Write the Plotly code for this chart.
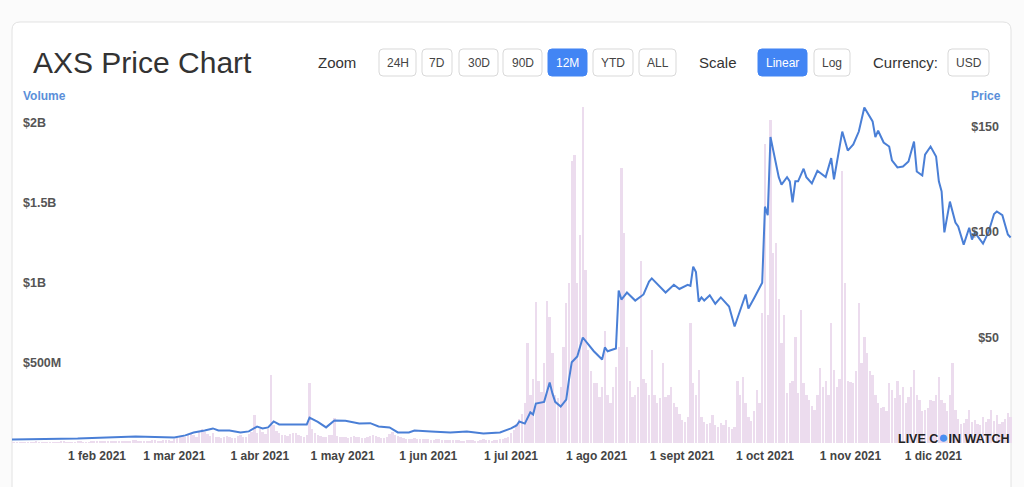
import plotly.graph_objects as go
import pandas as pd

# ---------------- data ----------------
price_dates = [
    "2021-01-01", "2021-01-25", "2021-02-15", "2021-02-24", "2021-03-01", "2021-03-05",
    "2021-03-08", "2021-03-12", "2021-03-15", "2021-03-17", "2021-03-21", "2021-03-25",
    "2021-03-28", "2021-03-31", "2021-04-02", "2021-04-04", "2021-04-06", "2021-04-08",
    "2021-04-12", "2021-04-18", "2021-04-19", "2021-04-22", "2021-04-25", "2021-04-28",
    "2021-05-02", "2021-05-07", "2021-05-11", "2021-05-14", "2021-05-18", "2021-05-21",
    "2021-05-25", "2021-05-27", "2021-06-02", "2021-06-09", "2021-06-15", "2021-06-21",
    "2021-06-27", "2021-07-01", "2021-07-03", "2021-07-04", "2021-07-06", "2021-07-08",
    "2021-07-09", "2021-07-10", "2021-07-13", "2021-07-15", "2021-07-16", "2021-07-17",
    "2021-07-19", "2021-07-21", "2021-07-22", "2021-07-23", "2021-07-25", "2021-07-27",
    "2021-07-29", "2021-07-31", "2021-08-03", "2021-08-04", "2021-08-05", "2021-08-08",
    "2021-08-09", "2021-08-10", "2021-08-12", "2021-08-15", "2021-08-18", "2021-08-20",
    "2021-08-21", "2021-08-23", "2021-08-26", "2021-08-29", "2021-08-31",
    "2021-09-03", "2021-09-04", "2021-09-05", "2021-09-06", "2021-09-07", "2021-09-08",
    "2021-09-09", "2021-09-11", "2021-09-13", "2021-09-15", "2021-09-18", "2021-09-20",
    "2021-09-24", "2021-09-25", "2021-09-27", "2021-09-29", "2021-09-30", "2021-10-01",
    "2021-10-02", "2021-10-03", "2021-10-06", "2021-10-07", "2021-10-09", "2021-10-10",
    "2021-10-11", "2021-10-12", "2021-10-13", "2021-10-15", "2021-10-16", "2021-10-18",
    "2021-10-20", "2021-10-23", "2021-10-25", "2021-10-26", "2021-10-29", "2021-10-31",
    "2021-11-02", "2021-11-04", "2021-11-06", "2021-11-09", "2021-11-10", "2021-11-11",
    "2021-11-13", "2021-11-15", "2021-11-16", "2021-11-18", "2021-11-20", "2021-11-22",
    "2021-11-24", "2021-11-25", "2021-11-27", "2021-11-28", "2021-11-30", "2021-12-02",
    "2021-12-03", "2021-12-04", "2021-12-05", "2021-12-07", "2021-12-09", "2021-12-10",
    "2021-12-12", "2021-12-14", "2021-12-15", "2021-12-16", "2021-12-19", "2021-12-21",
    "2021-12-23", "2021-12-24", "2021-12-26", "2021-12-28", "2021-12-29",
]
price_values = [
    1.7, 2.1, 3.1, 2.6, 2.6, 3.6,
    5.0, 5.9, 6.9, 5.9, 5.9, 5.0,
    5.5, 7.8, 6.9, 7.4, 10.2, 8.8,
    8.8, 8.8, 12.0, 10.0, 7.4, 10.7,
    10.5, 9.2, 9.4, 7.8, 7.4, 5.0,
    5.0, 5.9, 5.5, 5.0, 5.5, 4.5,
    5.0, 6.9, 8.3, 10.2, 9.2, 14.5,
    13.5, 18.7, 19.5, 28.7, 23.5, 19.5,
    17.3, 20.6, 30.0, 38.3, 41.0, 50.0,
    46.7, 43.5, 39.6, 45.3, 43.5, 44.8,
    72.3, 68.0, 71.3, 67.5, 70.4, 76.5,
    78.0, 75.5, 71.3, 75.0, 73.0,
    75.0, 74.5, 83.6, 81.0, 67.0, 69.0,
    67.5, 70.0, 66.0, 69.0, 64.7, 55.2,
    70.4, 63.7, 68.5, 74.0, 76.0, 112.0,
    108.0, 145.0, 126.0, 122.5, 126.0, 124.0,
    114.0, 124.0, 124.0, 130.0, 126.0, 123.0,
    129.0, 126.0, 135.0, 125.0, 147.6, 138.6,
    141.5, 147.6, 159.0, 152.4, 145.0, 148.0,
    142.4, 140.5, 134.0, 130.6, 131.0, 133.4,
    142.9, 128.7, 126.8, 136.7, 140.5, 135.8,
    124.0, 119.2, 99.8, 114.4, 104.5, 102.6,
    94.0, 102.0, 96.4, 99.8, 94.5, 100.0,
    108.5, 109.7, 108.0, 98.8, 97.4,
]

# daily volume, millions of USD, one list per month
vol_jan = [5, 4, 4, 5, 6, 5, 4, 4, 5, 7, 6, 5, 4, 5, 6, 6, 5, 5, 7, 8, 6, 5, 5, 6, 8, 7, 6, 5, 6, 8, 7]
vol_feb = [9, 10, 8, 7, 9, 12, 15, 13, 10, 9, 8, 12, 14, 18, 16, 13, 10, 9, 12, 15, 20, 18, 15, 13, 16, 19, 18, 15]
vol_mar = [25, 30, 40, 45, 35, 55, 65, 50, 40, 70, 85, 70, 55, 45, 60, 40, 35, 30, 40, 45, 38, 32, 30, 42, 48, 40, 35, 55, 70, 175, 65]
vol_apr = [90, 70, 55, 85, 425, 110, 75, 60, 50, 48, 45, 55, 65, 60, 50, 45, 40, 48, 375, 85, 60, 50, 45, 40, 38, 50, 48, 155, 45, 38]
vol_may = [40, 35, 32, 40, 45, 38, 35, 32, 30, 38, 45, 50, 42, 38, 34, 30, 40, 55, 70, 50, 42, 36, 30, 28, 25, 28, 30, 25, 22, 24, 25]
vol_jun = [22, 18, 20, 24, 22, 18, 17, 16, 18, 20, 18, 17, 15, 14, 16, 18, 17, 15, 14, 16, 22, 18, 17, 15, 17, 18, 22, 26, 30, 40]
vol_jul = [60, 80, 120, 150, 180, 250, 625, 300, 400, 880, 390, 320, 500, 890, 790, 560, 300, 280, 350, 600,
           875, 1000, 1760, 1800, 1000, 1300, 2100, 1080, 580, 450, 375]
vol_aug = [375, 290, 350, 700, 300, 250, 350, 475, 600, 1720, 1310, 600, 390, 290, 300, 350, 1140, 400, 375, 300,
           580, 300, 250, 280, 500, 290, 300, 350, 250, 225, 180]
vol_sep = [145, 130, 160, 750, 375, 300, 455, 160, 130, 120, 125, 175, 110, 100, 125, 110, 145, 100, 90, 100,
           390, 300, 415, 250, 160, 140, 200, 330, 250, 810]
vol_oct = [1870, 800, 2020, 1190, 1250, 900, 625, 800, 310, 375, 390, 660, 310, 830, 375, 300, 270, 230, 205, 300,
           470, 350, 390, 300, 750, 455, 350, 400, 1700, 1000, 390]
vol_nov = [380, 375, 450, 875, 500, 665, 560, 450, 425, 300, 250, 220, 225, 200, 375, 330, 280, 390, 300, 350,
           250, 290, 350, 455, 300, 270, 200, 205, 220, 270]
vol_dec = [260, 300, 415, 270, 250, 200, 300, 500, 205, 150, 120, 125, 150, 205, 130, 145, 120, 110, 160, 130,
           150, 205, 140, 175, 120, 130, 150, 190, 160]

month_starts = ["2021-01-01", "2021-02-01", "2021-03-01", "2021-04-01", "2021-05-01", "2021-06-01",
                "2021-07-01", "2021-08-01", "2021-09-01", "2021-10-01", "2021-11-01", "2021-12-01"]
month_volumes = [vol_jan, vol_feb, vol_mar, vol_apr, vol_may, vol_jun,
                 vol_jul, vol_aug, vol_sep, vol_oct, vol_nov, vol_dec]

x_tick_dates = ["2021-02-01", "2021-03-01", "2021-04-01", "2021-05-01", "2021-06-01", "2021-07-01",
                "2021-08-01", "2021-09-01", "2021-10-01", "2021-11-01", "2021-12-01"]
x_tick_labels = ["1 feb 2021", "1 mar 2021", "1 abr 2021", "1 may 2021", "1 jun 2021", "1 jul 2021",
                 "1 ago 2021", "1 sept 2021", "1 oct 2021", "1 nov 2021", "1 dic 2021"]
vol_tick_values = [5e8, 1e9, 1.5e9, 2e9]
vol_tick_labels = ["$500M", "$1B", "$1.5B", "$2B"]
price_tick_values = [50, 100, 150]
price_tick_labels = ["$50", "$100", "$150"]

zoom_buttons = ["24H", "7D", "30D", "90D", "12M", "YTD", "ALL"]
scale_buttons = ["Linear", "Log"]
currency_buttons = ["USD"]

# ---------------- build series ----------------
vol_dates, vol_values = [], []
for start, vals in zip(month_starts, month_volumes):
    vol_dates += list(pd.date_range(start, periods=len(vals), freq="D"))
    vol_values += [v * 1e6 for v in vals]

# ---------------- layout geometry ----------------
W, H = 1024, 487
L, R, T, B = 12, 12, 100, 44
PW, PH = W - L - R, H - T - B
FONT = "Liberation Sans, Arial, sans-serif"
BLUE = "#4285f4"


def px(x):
    return (x - L) / PW


def py(y):
    return (H - B - y) / PH


def rrect(x0, y0, x1, y1, r):
    pts = [("M", [(x0 + r, y0)]), ("L", [(x1 - r, y0)]), ("Q", [(x1, y0), (x1, y0 + r)]),
           ("L", [(x1, y1 - r)]), ("Q", [(x1, y1), (x1 - r, y1)]), ("L", [(x0 + r, y1)]),
           ("Q", [(x0, y1), (x0, y1 - r)]), ("L", [(x0, y0 + r)]), ("Q", [(x0, y0), (x0 + r, y0)])]
    s = ""
    for cmd, ps in pts:
        s += cmd + " " + " ".join(f"{px(a):.5f},{py(b):.5f}" for a, b in ps) + " "
    return s + "Z"


fig = go.Figure()
fig.add_trace(go.Bar(
    x=vol_dates, y=vol_values, yaxis="y", marker=dict(color="#ecdcee", line=dict(width=0)),
    width=86400000 * 0.85, hoverinfo="skip", showlegend=False,
))
fig.add_trace(go.Scatter(
    x=price_dates, y=price_values, yaxis="y2", mode="lines",
    line=dict(color="#4a7fd6", width=2),
    showlegend=False,
))

shapes = [dict(type="path", xref="paper", yref="paper", layer="below",
               path=rrect(12, 22, 1011, 520, 8),
               line=dict(color="#e2e2e2", width=1), fillcolor="white")]
annotations = []

def text(x, y, s, size, color, anchor="left", bold=False):
    annotations.append(dict(xref="paper", yref="paper", x=px(x), y=py(y), text=s, showarrow=False,
                            xanchor=anchor, yanchor="middle",
                            font=dict(family=FONT, size=size, color=color,
                                      weight="bold" if bold else "normal")))

def button(label, x0, x1, active=False):
    shapes.append(dict(type="path", xref="paper", yref="paper", layer="above",
                       path=rrect(x0, 49, x1, 76, 4),
                       line=dict(color=BLUE if active else "#d9d9d9", width=1),
                       fillcolor=BLUE if active else "white"))
    text((x0 + x1) / 2, 62.5, label, 12, "white" if active else "#444", anchor="center")

text(31, 62, "AXS Price Chart", 30, "#333")
text(316, 62, "Zoom", 15, "#333")
zoom_x = [(379, 416), (422, 452), (459, 498), (503, 542), (548, 587), (593, 633), (639, 676)]
for lab, (a, b) in zip(zoom_buttons, zoom_x):
    button(lab, a, b, active=(lab == "12M"))
text(697, 62, "Scale", 15, "#333")
for lab, (a, b) in zip(scale_buttons, [(758, 807), (814, 850)]):
    button(lab, a, b, active=(lab == "Linear"))
text(871, 62, "Currency:", 15, "#333")
button(currency_buttons[0], 948, 989)

text(21, 96, "Volume", 12, "#5b8fd9", bold=True)
text(1003, 96, "Price", 12, "#5b8fd9", anchor="right", bold=True)
text(1011, 437, "LIVE C<span style='color:#4a8ff0;font-size:17px'>●</span>IN WATCH", 12.5, "#222",
     anchor="right", bold=True)

fig.update_layout(
    width=W, height=H,
    margin=dict(l=L, r=R, t=T, b=B, pad=0),
    paper_bgcolor="#fbfbfb", plot_bgcolor="rgba(0,0,0,0)",
    font=dict(family=FONT),
    bargap=0,
    shapes=shapes, annotations=annotations,
    xaxis=dict(type="date", range=["2021-01-01 05:00", "2021-12-29 12:00"],
               tickvals=x_tick_dates, ticktext=x_tick_labels, showgrid=False, zeroline=False,
               showline=False, ticks="", ticklabelstandoff=4,
               tickfont=dict(family=FONT, size=12, color="#444", weight="bold")),
    yaxis=dict(range=[0, 343 * 6.25e6], tickvals=vol_tick_values, ticktext=vol_tick_labels,
               showgrid=False, zeroline=False, showline=False, ticks="",
               ticklabelposition="inside", ticklabelstandoff=8,
               tickfont=dict(family=FONT, size=12.5, color="#555", weight="bold")),
    yaxis2=dict(range=[0, 343 / 2.11], overlaying="y", side="right",
                tickvals=price_tick_values, ticktext=price_tick_labels,
                showgrid=False, zeroline=False, showline=False, ticks="",
                ticklabelposition="inside", ticklabelstandoff=10,
                tickfont=dict(family=FONT, size=12.5, color="#555", weight="bold")),
)

fig.write_html("out.html", config={"displayModeBar": False},
               post_script="document.body.style.margin='0';document.body.style.overflow='hidden';")
